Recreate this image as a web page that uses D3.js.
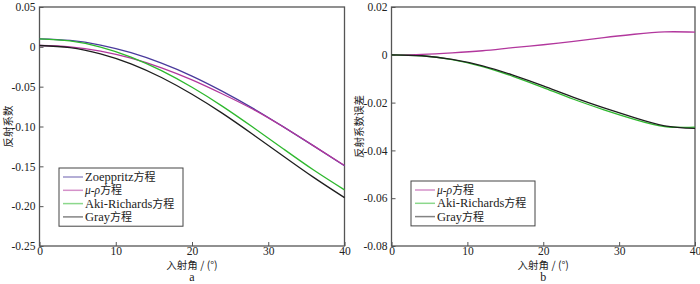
<!DOCTYPE html>
<html lang="zh">
<head>
<meta charset="UTF-8">
<title>反射系数对比</title>
<script src="https://d3js.org/d3.v7.min.js"></script>
<style>
    body { margin: 0; background: #fff; }
    svg text { font-family: "Liberation Serif", "DejaVu Serif", "Noto Sans CJK SC", serif; fill: #222; }
    .tick text { font-size: 11.5px; }
    .tick line { stroke: #555; }
    svg text.cjk, svg tspan.cjk { font-family: "Noto Sans CJK SC", sans-serif; }
</style>
</head>
<body>
<div id="chart"></div>
<script>
// 入射角（度）
const angles = [0, 4, 8, 12, 16, 20, 24, 28, 32, 36, 40];

// 图 a：反射系数
const zoeppritz = [0.0100, 0.0080, 0.0022, -0.0074, -0.0205, -0.0367, -0.0559, -0.0772, -0.1005, -0.1246, -0.1492];
const muRho     = [0.0017, 0.0000, -0.0053, -0.0142, -0.0263, -0.0415, -0.0592, -0.0784, -0.1007, -0.1246, -0.1490];
const akiRich   = [0.0100, 0.0074, -0.0003, -0.0128, -0.0299, -0.0508, -0.0747, -0.1010, -0.1282, -0.1550, -0.1796];
const gray      = [0.0017, -0.0009, -0.0088, -0.0213, -0.0385, -0.0595, -0.0835, -0.1100, -0.1373, -0.1642, -0.1893];

// 图 b：反射系数误差
const muRhoErr = [0, 0.0002, 0.0008, 0.0017, 0.0030, 0.0042, 0.0056, 0.0072, 0.0086, 0.0096, 0.0095];
const akiErr   = [0, -0.0004, -0.0020, -0.0049, -0.0090, -0.0137, -0.0186, -0.0230, -0.0270, -0.0300, -0.0303];
const grayErr  = [0, -0.0004, -0.0019, -0.0046, -0.0085, -0.0130, -0.0178, -0.0222, -0.0263, -0.0297, -0.0308];

const xTicks = [0, 10, 20, 30, 40];
const yTicksA = [0.05, 0, -0.05, -0.10, -0.15, -0.20, -0.25];
const yLabelsA = ["0.05", "0", "-0.05", "-0.10", "-0.15", "-0.20", "-0.25"];
const yTicksB = [0.02, 0, -0.02, -0.04, -0.06, -0.08];
const yLabelsB = ["0.02", "0", "-0.02", "-0.04", "-0.06", "-0.08"];

const colors = {
    zoeppritz: "#4a3a9c",
    muRho: "#b2379d",
    aki: "#2eb82e",
    gray: "#1e1e1e"
};

const svg = d3.select("#chart").append("svg")
    .attr("width", 700)
    .attr("height", 284);

function drawPanel(opt) {
    const x = d3.scaleLinear().domain([0, 40]).range([opt.left, opt.right]);
    const y = d3.scaleLinear().domain(opt.yDomain).range([opt.bottom, opt.top]);
    const g = svg.append("g");

    g.append("g")
        .attr("transform", `translate(0,${opt.bottom})`)
        .call(d3.axisBottom(x).tickValues(xTicks).tickSize(-4).tickSizeOuter(0).tickPadding(1).tickFormat(d3.format("d")))
        .call(s => s.select(".domain").remove());

    g.append("g")
        .attr("transform", `translate(${opt.left},0)`)
        .call(d3.axisLeft(y).tickValues(opt.yTicks).tickSize(-4).tickSizeOuter(0).tickPadding(4)
            .tickFormat((d, i) => opt.yLabels[i]))
        .call(s => s.select(".domain").remove());

    g.selectAll("g").attr("font-family", null);
    g.selectAll(".tick text").attr("fill", "#222");

    g.append("rect")
        .attr("x", opt.left).attr("y", opt.top)
        .attr("width", opt.right - opt.left).attr("height", opt.bottom - opt.top)
        .attr("fill", "none").attr("stroke", "#555").attr("stroke-width", 1.3);

    const line = d3.line()
        .x((d, i) => x(angles[i]))
        .y(d => y(d))
        .curve(d3.curveNatural);

    opt.series.forEach(s => {
        g.append("path")
            .datum(s.values)
            .attr("d", line)
            .attr("fill", "none")
            .attr("stroke", s.color)
            .attr("stroke-width", 1.3);
    });

    const cx = (opt.left + opt.right) / 2;
    g.append("text").attr("class", "cjk")
        .attr("x", cx).attr("y", opt.bottom + 23)
        .attr("text-anchor", "middle").style("font-size", "10.5px")
        .text("入射角 / (°)");
    g.append("text")
        .attr("x", cx).attr("y", opt.bottom + 35)
        .attr("text-anchor", "middle").style("font-size", "12px")
        .text(opt.tag);
    g.append("text").attr("class", "cjk")
        .attr("transform", `translate(${opt.yTitleX},${(opt.top + opt.bottom) / 2}) rotate(-90)`)
        .attr("text-anchor", "middle").style("font-size", "10.5px")
        .text(opt.yTitle);

    // 图例
    const lg = g.append("g").attr("transform", `translate(${opt.legend.x},${opt.legend.y})`);
    const rowH = 13.3;
    lg.append("rect")
        .attr("width", opt.legend.w)
        .attr("height", opt.series.length * rowH + 5)
        .attr("fill", "#fff").attr("stroke", "#444").attr("stroke-width", 1);
    opt.series.forEach((s, i) => {
        const yy = 9 + i * rowH;
        lg.append("line")
            .attr("x1", 4).attr("x2", 24).attr("y1", yy).attr("y2", yy)
            .attr("stroke", s.color).attr("stroke-opacity", 0.55).attr("stroke-width", 1.5);
        const t = lg.append("text").attr("x", 26).attr("y", yy + 4).style("font-size", "12.5px");
        if (s.italic) {
            t.append("tspan").style("font-style", "italic").style("font-size", "11.5px").text(s.italic);
        } else {
            t.append("tspan").text(s.name);
        }
        t.append("tspan").attr("class", "cjk").style("font-size", "11px").text("方程");
    });
}

drawPanel({
    left: 39.5, right: 344.5, top: 7, bottom: 246,
    yDomain: [-0.25, 0.05], yTicks: yTicksA, yLabels: yLabelsA,
    yTitle: "反射系数", yTitleX: 12, tag: "a",
    legend: { x: 59, y: 168, w: 124 },
    series: [
        { name: "Zoeppritz", values: zoeppritz, color: colors.zoeppritz },
        { italic: "μ-ρ", values: muRho, color: colors.muRho },
        { name: "Aki-Richards", values: akiRich, color: colors.aki },
        { name: "Gray", values: gray, color: colors.gray }
    ]
});

drawPanel({
    left: 391.5, right: 695, top: 7, bottom: 246,
    yDomain: [-0.08, 0.02], yTicks: yTicksB, yLabels: yLabelsB,
    yTitle: "反射系数误差", yTitleX: 363, tag: "b",
    legend: { x: 411, y: 181, w: 124 },
    series: [
        { italic: "μ-ρ", values: muRhoErr, color: colors.muRho },
        { name: "Aki-Richards", values: akiErr, color: colors.aki },
        { name: "Gray", values: grayErr, color: colors.gray }
    ]
});
</script>
</body>
</html>
